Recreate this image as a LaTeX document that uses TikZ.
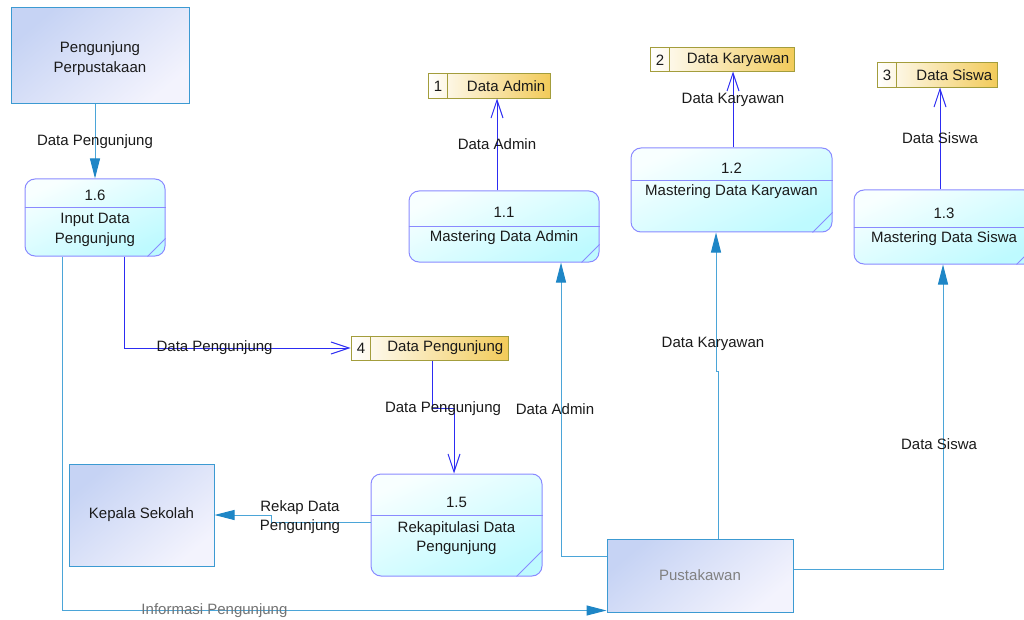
\documentclass[tikz,border=0pt]{standalone}
\usepackage{fontspec}
\setmainfont{Liberation Sans}
\usetikzlibrary{arrows.meta}
\usetikzlibrary{calc}
\definecolor{entline}{HTML}{3C9AD2}
\definecolor{entA}{HTML}{C6D3F4}
\definecolor{entB}{HTML}{F3F3FD}
\definecolor{procline}{HTML}{8A8AFF}
\definecolor{procA}{HTML}{F8FFFF}
\definecolor{procB}{HTML}{BEFAFF}
\definecolor{storeline}{HTML}{A39D3C}
\definecolor{storeB}{HTML}{F2CB5A}
\definecolor{flowblue}{HTML}{4BA5D8}
\definecolor{tipblue}{HTML}{1E86C6}
\definecolor{storeblue}{HTML}{2C2CF2}
\definecolor{txt}{HTML}{1A1A1A}
\tikzset{l/.style={font=\fontsize{15}{19.5}\selectfont, text=txt, inner sep=0pt, align=center}}
\tikzset{ent/.style={draw=entline, line width=1pt, top color=entA, bottom color=entB, shading angle=40, l}}
\tikzset{proc/.style={draw=procline, line width=1pt, rounded corners=10pt, top color=procA, bottom color=procB, shading angle=25}}
\tikzset{sep/.style={draw=procline, line width=1pt}}
\tikzset{store/.style={draw=storeline, line width=1pt, left color=white, right color=storeB}}
\tikzset{eflow/.style={draw=flowblue, line width=1pt, -{Triangle[length=20pt,width=10pt,color=tipblue]}}}
\tikzset{sflow/.style={draw=storeblue, line width=1pt, -{Straight Barb[length=18pt,width=12pt]}}}

\begin{document}
\begin{tikzpicture}[x=1pt,y=-1pt]
  \useasboundingbox (0,0) rectangle (1024,620);
  % external entities
  \node[ent, minimum width=178, minimum height=96] (pp) at (100,56) {};
  \node[l] (ppt) at (100,58.5) {Pengunjung\\Perpustakaan};
  \node[ent, minimum width=145, minimum height=102] (ks) at (141.5,515) {Kepala Sekolah};
  \node[ent, minimum width=186, minimum height=73, text=gray] (pk) at (700,575.5) {Pustakawan};
  % processes
  \node[proc, minimum width=140, minimum height=77] (p16) at (95,217.5) {};
  \draw[sep] ([yshift=-29pt]p16.north west) -- ([yshift=-29pt]p16.north east);
  \draw[sep] ([yshift=18pt]p16.south east) -- ([xshift=-18pt]p16.south east);
  \node[l] (n16) at (95,195) {1.6};
  \node[l] (t16) at (95,230) {Input Data\\Pengunjung};

  \node[proc, minimum width=190, minimum height=71] (p11) at (504,226.5) {};
  \draw[sep] ([yshift=-36pt]p11.north west) -- ([yshift=-36pt]p11.north east);
  \draw[sep] ([yshift=18pt]p11.south east) -- ([xshift=-18pt]p11.south east);
  \node[l] (n11) at (504,212) {1.1};
  \node[l] (t11) at (504,238) {Mastering Data Admin};

  \node[proc, minimum width=201, minimum height=84] (p12) at (731.5,190) {};
  \draw[sep] ([yshift=-33pt]p12.north west) -- ([yshift=-33pt]p12.north east);
  \draw[sep] ([yshift=20pt]p12.south east) -- ([xshift=-20pt]p12.south east);
  \node[l] (n12) at (731.5,168) {1.2};
  \node[l] (t12) at (731.5,192) {Mastering Data Karyawan};

  \node[proc, minimum width=180, minimum height=74] (p13) at (944,227) {};
  \draw[sep] ([yshift=-38pt]p13.north west) -- ([yshift=-38pt]p13.north east);
  \draw[sep] ([yshift=18pt]p13.south east) -- ([xshift=-18pt]p13.south east);
  \node[l] (n13) at (944,213) {1.3};
  \node[l] (t13) at (944,239) {Mastering Data Siswa};

  \node[proc, minimum width=171, minimum height=102] (p15) at (456.5,525) {};
  \draw[sep] ([yshift=-42pt]p15.north west) -- ([yshift=-42pt]p15.north east);
  \draw[sep] ([yshift=26pt]p15.south east) -- ([xshift=-26pt]p15.south east);
  \node[l] (n15) at (456.5,502) {1.5};
  \node[l] (t15) at (456.5,538) {Rekapitulasi Data\\Pengunjung};
  % data stores
  \node[store, minimum width=122, minimum height=25] (s1) at (489,86.5) {};
  \draw[storeline, line width=1pt] ([xshift=20pt]s1.north west) -- ([xshift=20pt]s1.south west);
  \node[l] (s1n) at (438,86.5) {1};
  \node[l, anchor=east] (s1t) at (545.5,86.5) {Data Admin};

  \node[store, minimum width=144, minimum height=24] (s2) at (722,60) {};
  \draw[storeline, line width=1pt] ([xshift=20pt]s2.north west) -- ([xshift=20pt]s2.south west);
  \node[l] (s2n) at (660,60) {2};
  \node[l, anchor=east] (s2t) at (789.5,60) {Data Karyawan};

  \node[store, minimum width=120, minimum height=25] (s3) at (937,75.5) {};
  \draw[storeline, line width=1pt] ([xshift=20pt]s3.north west) -- ([xshift=20pt]s3.south west);
  \node[l] (s3n) at (887,75.5) {3};
  \node[l, anchor=east] (s3t) at (992.5,75.5) {Data Siswa};

  \node[store, minimum width=157, minimum height=24] (s4) at (429.5,348) {};
  \draw[storeline, line width=1pt] ([xshift=20pt]s4.north west) -- ([xshift=20pt]s4.south west);
  \node[l] (s4n) at (361,348) {4};
  \node[l, anchor=east] (s4t) at (503.5,348) {Data Pengunjung};
  % flows
  \draw[eflow] (pp.south -| p16.north) -- (p16.north) node[l, midway] (f1) {Data Pengunjung};
  \draw[eflow] ([xshift=-33pt]p16.south) |- ([yshift=2pt]pk.south west)
    node[l, pos=0.64, text=gray!90!black] (f2) {Informasi Pengunjung};
  \draw[sflow] ([xshift=29pt]p16.south) |- (s4.west) node[l, pos=0.7] (f3) {Data Pengunjung};
  \draw[sflow] ([xshift=2.5pt]s4.south) -- ++(0,48) node[l, xshift=11pt] (f4) {Data Pengunjung}
    -| ([xshift=-2.5pt]p15.north);
  \draw[eflow] ([yshift=3pt]p15.west) -- ++(-99,0) |- (ks.east);
  \node[l] (f5) at (300,517) {Rekap Data\\Pengunjung};
  \draw[eflow] ([yshift=19.5pt]pk.west) -| ([xshift=57pt]p11.south)
    node[l, pos=0.75, xshift=-6pt] (f6) {Data Admin};
  \draw[eflow] ([xshift=18pt]pk.north) -- ++(0,-167) -| ([xshift=-15.5pt]p12.south)
    node[l, pos=0.6, xshift=-3pt] (f7) {Data Karyawan};
  \draw[eflow] ([yshift=6.5pt]pk.east) -| ([xshift=-1pt]p13.south)
    node[l, pos=0.705, xshift=-4pt] (f8) {Data Siswa};
  \draw[sflow] ([xshift=-7pt]p11.north) -- ++(0,-92) node[l, midway] (f9) {Data Admin};
  \draw[sflow] ([xshift=1.5pt]p12.north) -- ++(0,-76) node[l, pos=0.62] (f10) {Data Karyawan};
  \draw[sflow] ([xshift=-4pt]p13.north) -- ++(0,-102) node[l, midway] (f11) {Data Siswa};
\end{tikzpicture}
\end{document}
